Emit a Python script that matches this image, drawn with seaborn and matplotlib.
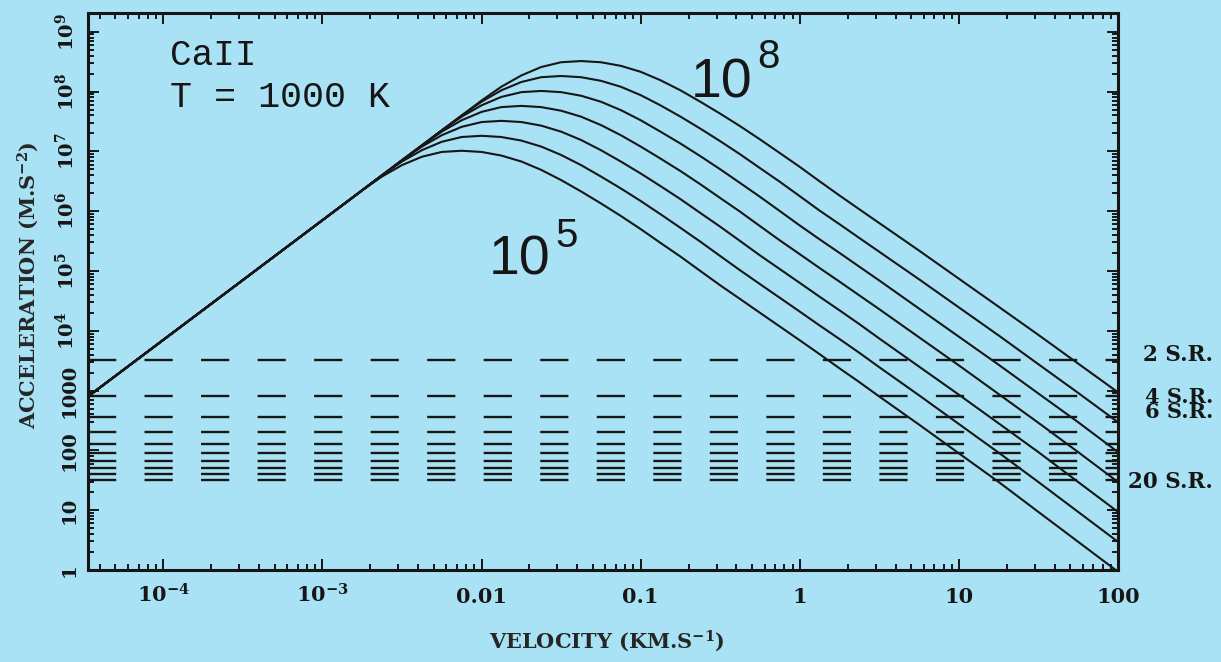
"""
CaII radiation-pressure acceleration vs. velocity, T = 1000 K
"""
import numpy as np
import pandas as pd
import matplotlib
matplotlib.use("Agg")
import matplotlib.pyplot as plt
import seaborn as sns
from matplotlib.ticker import LogLocator, NullFormatter

# velocity grid (km/s), shared by all curves
velocity = [3.4e-5, 0.00178, 0.00237, 0.00316, 0.00422, 0.00562, 0.0075,
            0.010, 0.0133, 0.0178, 0.0237, 0.0316, 0.0422, 0.0562, 0.075,
            0.10, 0.133, 0.178, 0.237, 0.316, 0.422, 0.562, 0.75,
            1.0, 1.33, 1.78, 2.37, 3.16, 5.62, 10, 17.8, 31.6, 56.2, 100]

# log10 of the acceleration (m/s^2), one list per curve
log_acc_1e8 = [2.91, 6.35, 6.60, 6.85, 7.10, 7.35, 7.60,
               7.85, 8.08, 8.27, 8.41, 8.49, 8.51, 8.49, 8.43,
               8.33, 8.19, 8.02, 7.83, 7.63, 7.42, 7.20, 6.97,
               6.74, 6.50, 6.26, 6.03, 5.80, 5.34, 4.87, 4.40, 3.93, 3.45, 2.97]
log_acc_3e7 = [2.91, 6.35, 6.60, 6.85, 7.10, 7.35, 7.60,
               7.83, 8.02, 8.16, 8.24, 8.26, 8.24, 8.18, 8.08,
               7.94, 7.77, 7.58, 7.38, 7.17, 6.95, 6.72, 6.49,
               6.25, 6.01, 5.78, 5.55, 5.32, 4.86, 4.39, 3.92, 3.44, 2.96, 2.47]
log_acc_1e7 = [2.91, 6.35, 6.60, 6.85, 7.10, 7.35, 7.58,
               7.77, 7.91, 7.99, 8.01, 7.99, 7.93, 7.83, 7.69,
               7.52, 7.33, 7.13, 6.92, 6.70, 6.47, 6.24, 6.00,
               5.76, 5.53, 5.30, 5.07, 4.84, 4.37, 3.90, 3.43, 2.95, 2.47, 1.97]
log_acc_3e6 = [2.91, 6.35, 6.60, 6.85, 7.10, 7.33, 7.52,
               7.66, 7.74, 7.76, 7.74, 7.68, 7.58, 7.44, 7.27,
               7.08, 6.88, 6.67, 6.45, 6.22, 5.99, 5.75, 5.51,
               5.28, 5.05, 4.82, 4.59, 4.36, 3.89, 3.42, 2.94, 2.46, 1.97, 1.47]
log_acc_1e6 = [2.91, 6.35, 6.60, 6.85, 7.08, 7.27, 7.41,
               7.49, 7.51, 7.49, 7.43, 7.33, 7.19, 7.02, 6.83,
               6.63, 6.42, 6.20, 5.97, 5.74, 5.50, 5.26, 5.03,
               4.80, 4.57, 4.34, 4.11, 3.87, 3.40, 2.93, 2.45, 1.97, 1.47, 0.97]
log_acc_3e5 = [2.91, 6.35, 6.60, 6.83, 7.02, 7.16, 7.24,
               7.26, 7.24, 7.18, 7.08, 6.94, 6.77, 6.58, 6.38,
               6.17, 5.95, 5.72, 5.49, 5.25, 5.01, 4.78, 4.55,
               4.32, 4.09, 3.86, 3.63, 3.39, 2.92, 2.44, 1.96, 1.47, 0.97, 0.47]
log_acc_1e5 = [2.91, 6.35, 6.58, 6.77, 6.91, 6.99, 7.01,
               6.99, 6.93, 6.83, 6.69, 6.52, 6.33, 6.13, 5.92,
               5.70, 5.47, 5.24, 5.00, 4.76, 4.53, 4.30, 4.07,
               3.84, 3.61, 3.37, 3.14, 2.90, 2.43, 1.95, 1.47, 0.97, 0.47, -0.03]

curves = {"1e5": log_acc_1e5, "3e5": log_acc_3e5, "1e6": log_acc_1e6,
          "3e6": log_acc_3e6, "1e7": log_acc_1e7, "3e7": log_acc_3e7,
          "1e8": log_acc_1e8}

# dashed levels: gravity at n stellar radii
sr_radii = [2, 4, 6, 8, 10, 12, 14, 16, 18, 20]
sr_acc = [3240, 810, 360, 203, 130, 90, 66, 51, 40, 32]

xtick_vals = [1e-4, 1e-3, 0.01, 0.1, 1, 10, 100]
xtick_labels = [r"$10^{-4}$", r"$10^{-3}$", "0.01", "0.1", "1", "10", "100"]
ytick_vals = [1, 10, 100, 1000, 1e4, 1e5, 1e6, 1e7, 1e8, 1e9]
ytick_labels = ["1", "10", "100", "1000", r"$10^4$", r"$10^5$", r"$10^6$",
                r"$10^7$", r"$10^8$", r"$10^9$"]

# long-form table for seaborn
df = pd.concat([pd.DataFrame({"velocity": velocity,
                              "acceleration": 10 ** np.array(vals),
                              "curve": name})
                for name, vals in curves.items()], ignore_index=True)

# Style
sns.set_style("ticks")
bg = "#a9e2f4"
ink = "#161616"
plt.rcParams.update({
    "font.family": ["DejaVu Serif"],
    "font.weight": "bold",
    "mathtext.fontset": "custom",
    "mathtext.rm": "DejaVu Serif:bold",
    "mathtext.it": "DejaVu Serif:bold",
    "mathtext.bf": "DejaVu Serif:bold",
    "lines.scale_dashes": False,
    "axes.linewidth": 2.2,
    "axes.edgecolor": ink,
    "text.color": ink,
})

fig = plt.figure(figsize=(12.21, 6.62), dpi=100, facecolor=bg)
ax = fig.add_axes([0.0721, 0.139, 0.8436, 0.8414])
ax.set_facecolor(bg)
ax.set_xscale("log")
ax.set_yscale("log")

# stellar-radius gravity levels
for acc in sr_acc:
    ax.axhline(acc, color=ink, lw=1.7, linestyle=(0, (20.3, 20.4)), zorder=1)

sns.lineplot(data=df, x="velocity", y="acceleration", units="curve",
             estimator=None, sort=False, color=ink, linewidth=1.5,
             legend=False, ax=ax, zorder=2)

ax.set_xlim(3.365e-5, 100)
ax.set_ylim(1, 2.06e9)

ax.set_xticks(xtick_vals, labels=xtick_labels)
ax.set_yticks(ytick_vals, labels=ytick_labels)
ax.xaxis.set_minor_locator(LogLocator(base=10, subs=np.arange(2, 10), numticks=20))
ax.yaxis.set_minor_locator(LogLocator(base=10, subs=np.arange(2, 10), numticks=20))
ax.xaxis.set_minor_formatter(NullFormatter())
ax.yaxis.set_minor_formatter(NullFormatter())

ax.tick_params(which="both", direction="in", top=True, right=True,
               width=1.4, color=ink, labelcolor=ink)
ax.tick_params(which="major", length=8)
ax.tick_params(which="minor", length=4)
ax.tick_params(axis="x", which="major", pad=23.5, labelsize=15)
ax.tick_params(axis="y", which="major", pad=10, labelsize=14)
for lab in ax.get_xticklabels():
    lab.set_va("baseline")
for lab in ax.get_yticklabels():
    lab.set_rotation(90)
    lab.set_rotation_mode("anchor")
    lab.set_ha("center")
    lab.set_va("baseline")

ax.set_xlabel(r"VELOCITY (KM.S$^{-1}$)", fontsize=15, fontweight="bold")
ax.xaxis.set_label_coords(0.504, -0.104)
ax.set_ylabel(r"ACCELERATION (M.S$^{-2}$)", fontsize=15, fontweight="bold")
ax.yaxis.set_label_coords(-0.0456, 0.512)

# annotations inside the frame
ax.text(0.0796, 0.9066, "CaII", transform=ax.transAxes, fontsize=26,
        family="Liberation Mono", fontweight="normal", va="baseline")
ax.text(0.0796, 0.8312, "T = 1000 K", transform=ax.transAxes, fontsize=26.5,
        family="Liberation Mono", fontweight="normal", va="baseline")
big = dict(transform=ax.transAxes, family="Liberation Sans",
           fontweight="normal", va="baseline")
ax.text(0.5854, 0.8474, "10", fontsize=40, **big)
ax.text(0.6495, 0.9013, "8", fontsize=29, **big)
ax.text(0.3893, 0.5296, "10", fontsize=40, **big)
ax.text(0.4534, 0.5799, "5", fontsize=29, **big)

# right-hand labels for the radius levels
side = dict(xycoords=ax.get_yaxis_transform(), textcoords="offset points",
            ha="right", va="center", fontweight="bold", annotation_clip=False)
ax.annotate("2 S.R.", xy=(1, sr_acc[0]), xytext=(68.4, 3.6), fontsize=15.5, **side)
ax.annotate("4 S.R.\n6 S.R.", xy=(1, sr_acc[1]), xytext=(68.4, -6.1),
            fontsize=15, linespacing=0.72, multialignment="right", **side)
ax.annotate("20 S.R.", xy=(1, sr_acc[-1]), xytext=(68.4, -1.4), fontsize=15.5, **side)

fig.savefig("out.png", dpi=100, facecolor=bg)
